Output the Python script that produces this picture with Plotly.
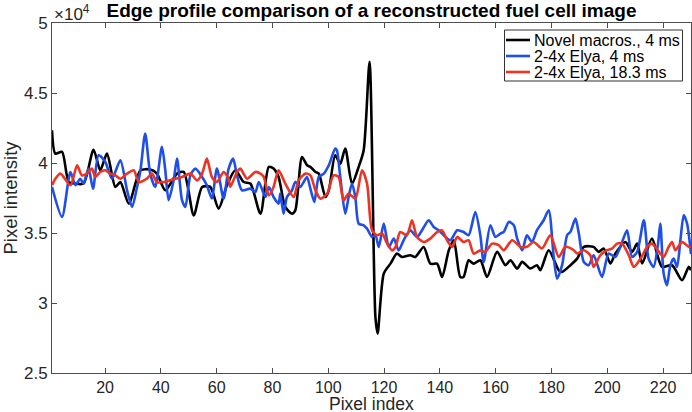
import plotly.graph_objects as go

# ---- data ----
black_x = [1, 2.2, 4.6, 7.0, 9.4, 12.3, 15.9, 18.3, 20.7, 23.7, 25.5, 28.5, 32.7, 36.2, 38.6, 41.6, 45.8, 48.2, 51.8, 54.8,
           57.7, 60.7, 63.7, 66.7, 69.7, 72.1, 75.7, 78.7, 80.4, 82.2, 84.6, 87.0, 88.2, 90.6, 92.4, 93.6, 95.4, 96.6, 99.0, 100.2,
           102.5, 104.3, 106.1, 108.5, 110.9, 112.7, 114.8, 116.9, 117.7, 119.9, 122.3, 124.6, 126.4, 129.4, 131.2, 134.2, 136.6,
           139.0, 140.8, 143.2, 145.0, 147.3, 148.5, 150.3, 152.1, 154.5, 156.9, 160.5, 163.5, 165.3, 167.7, 169.5, 172.4, 174.8,
           176.0, 179.0, 182.6, 183.8, 186.8, 189.2, 191.6, 195.1, 196.9, 198.7, 201.1, 202.9, 206.5, 208.9, 210.7, 212.5, 216.0,
           219.6, 223.2, 226.8, 229.2, 230]
black_y = [42340, 40670, 40790, 38640, 38530, 38530, 40950, 39480, 40670, 38290, 38640, 37100, 39480, 39530, 39240, 38050,
           39240, 39360, 36260, 38290, 38290, 36740, 38410, 39480, 38640, 38530, 36380, 39720, 39600, 39000, 36860, 36380, 36620,
           40430, 39840, 39720, 39360, 39240, 37570, 38050, 40550, 39950, 41030, 38530, 39720, 40910, 47220, 29000, 27810, 32100,
           32810, 33530, 33290, 33410, 33290, 34000, 32810, 32810, 31860, 33760, 34480, 31860, 31860, 33050, 32810, 33050, 31860,
           33650, 32700, 33050, 32460, 32940, 32460, 32700, 32340, 33770, 32340, 32220, 32700, 33170, 34010, 34010, 33650, 33890,
           32820, 33530, 34360, 33650, 34240, 32820, 34600, 32580, 32700, 31630, 32580, 32340]

blue_x = [1, 4.6, 7.6, 9.4, 11.1, 12.3, 14.1, 15.7, 17.7, 20.1, 22.5, 25.5, 27.9, 29.7, 31.5, 32.7, 34.4, 36.2, 38.0, 40.4,
          41.6, 42.8, 44.6, 45.8, 47.6, 48.8, 50.6, 52.4, 54.8, 56.5, 58.3, 60.1, 62.5, 64.3, 65.9, 67.3, 69.1, 72.1, 73.9, 75.1,
          77.5, 78.7, 80.4, 82.2, 82.8, 84.0, 85.2, 87.0, 88.2, 90.0, 91.2, 92.4, 93.6, 95.0, 96.6, 98.4, 100.2, 102.5, 103.1,
          104.3, 106.1, 107.3, 108.5, 109.7, 110.9, 112.7, 113.9, 115.7, 116.9, 118.1, 119.9, 121.7, 123.5, 125.2, 127.0, 129.4,
          131.8, 133.6, 136.0, 137.8, 139.6, 142.0, 143.8, 146.2, 148.5, 150.3, 152.7, 154.5, 155.7, 158.1, 159.9, 161.7, 162.9,
          164.7, 166.5, 167.7, 169.5, 171.2, 173.0, 174.8, 177.2, 179.0, 180.8, 182.0, 183.8, 185.6, 186.8, 188.6, 189.8, 191.6,
          193.3, 195.1, 198.1, 200.5, 202.9, 205.3, 207.1, 208.9, 210.7, 213.1, 214.8, 216.6, 218.2, 219.0, 220.2, 221.4, 222.6,
          223.8, 225.0, 226.2, 227.4, 228.6, 230]
blue_y = [38290, 36150, 39360, 38410, 38880, 38530, 39600, 38170, 40550, 40070, 38880, 40190, 38050, 36860, 38290, 39480,
          42100, 39240, 38290, 41150, 39480, 37340, 38760, 40310, 37340, 36860, 39120, 39600, 39000, 38410, 37460, 39600, 37460,
          39600, 40310, 39120, 38050, 38170, 37930, 38640, 37570, 38290, 37570, 37100, 37810, 36380, 37570, 38050, 38650, 38290,
          38650, 39000, 38170, 37220, 39000, 39240, 39840, 41030, 40910, 39000, 36380, 37570, 38530, 37570, 35670, 35550, 35310,
          34720, 34840, 34000, 35670, 34000, 34600, 33760, 34480, 35190, 34720, 35190, 35910, 35430, 35190, 34720, 34480, 35190,
          35070, 34840, 36500, 34840, 32930, 35550, 34720, 34960, 35080, 35790, 35550, 34600, 33770, 34840, 34360, 35200, 35910,
          36630, 33290, 31740, 32700, 34840, 35080, 36030, 34960, 32930, 32700, 33410, 31860, 33530, 33290, 34360, 35200, 33290,
          33650, 35910, 33170, 32580, 34240, 35670, 32100, 31270, 32700, 33170, 32580, 34480, 36270, 35670, 33500]

red_x = [1, 2.2, 4.0, 7.6, 10.0, 11.7, 13.5, 15.3, 16.5, 18.3, 20.1, 21.9, 23.7, 25.5, 27.9, 30.3, 32.1, 35.0, 36.8, 38.6,
         41.0, 44.0, 47.6, 50.6, 53.0, 54.8, 56.5, 58.3, 60.1, 62.5, 64.3, 64.9, 67.3, 68.5, 70.9, 73.9, 75.7, 76.9, 78.7, 80.4,
         82.2, 84.6, 87.6, 89.4, 91.8, 93.6, 95.4, 97.2, 99.6, 101.9, 103.7, 105.5, 107.3, 109.7, 112.1, 113.9, 115.7, 117.5,
         119.3, 121.1, 122.9, 124.1, 125.8, 128.2, 130.0, 131.8, 134.2, 136.6, 139.0, 140.8, 142.6, 144.4, 146.2, 148.5, 150.3,
         152.1, 154.5, 156.3, 158.7, 161.1, 162.9, 165.9, 168.9, 171.2, 173.6, 176.6, 179.6, 182.6, 185.0, 188.0, 189.2, 191.6,
         193.9, 195.1, 197.5, 199.9, 201.7, 203.5, 205.3, 207.7, 209.5, 211.9, 214.3, 216.0, 219.0, 220.2, 222.0, 223.2, 224.4,
         226.8, 229.2, 230]
red_y = [38410, 38880, 39240, 38410, 39840, 39120, 39240, 39600, 39000, 39360, 39480, 39240, 39120, 38880, 39240, 39480,
         38640, 38880, 39240, 38640, 38640, 38810, 39000, 39240, 38760, 39240, 40310, 39000, 38640, 39360, 38880, 38290, 39360,
         39600, 38880, 39360, 39240, 39000, 37690, 38290, 39480, 38530, 37570, 38760, 39240, 39120, 38050, 37450, 37810, 39120,
         39000, 37340, 37810, 37450, 39480, 38530, 35190, 34840, 34960, 34240, 33760, 34000, 35070, 34840, 35910, 34720, 34360,
         34600, 35070, 35190, 34480, 34000, 34720, 34360, 34480, 33530, 33760, 33650, 34240, 34130, 33770, 34480, 34010, 34010,
         34360, 33890, 34840, 33290, 34010, 33770, 33530, 33770, 33410, 32580, 33410, 33770, 33890, 34240, 34240, 33410, 32580,
         33170, 34010, 34240, 33530, 33290, 34010, 34360, 33770, 34360, 34010, 34010]

series_names = ["Novel macros., 4 ms", "2-4x Elya, 4 ms", "2-4x Elya, 18.3 ms"]
series_colors = ["#000000", "#1f4fe8", "#ee3322"]

x_ticks = [20, 40, 60, 80, 100, 120, 140, 160, 180, 200, 220]
y_ticks = [25000, 30000, 35000, 40000, 45000, 50000]
y_ticktext = ["2.5", "3", "3.5", "4", "4.5", "5"]

FONT = "Liberation Sans, Arial, Helvetica, sans-serif"
W, H = 692, 412
ML, MR, MT, MB = 52, 1, 23, 39
PW, PH = W - ML - MR, H - MT - MB


def px_x(px):
    return (px - ML) / PW


def px_y(py):
    return (H - MB - py) / PH


fig = go.Figure()
for xs, ys, name, col in zip([black_x, blue_x, red_x], [black_y, blue_y, red_y], series_names, series_colors):
    fig.add_trace(go.Scatter(x=xs, y=ys, mode="lines", name=name, showlegend=False,
                             line=dict(color=col, width=2.6, shape="spline", smoothing=0.7)))

axis_common = dict(showline=True, linecolor="#4d4d4d", linewidth=1, mirror="ticks",
                   ticks="inside", ticklen=5, tickcolor="#4d4d4d", showgrid=False, zeroline=False,
                   automargin=False)

fig.update_xaxes(range=[1, 230], tickvals=x_ticks,
                 tickfont=dict(family=FONT, size=16, color="#262626"),
                 **axis_common)
fig.update_yaxes(range=[25000, 50000], tickvals=y_ticks, ticktext=y_ticktext,
                 tickfont=dict(family=FONT, size=17, color="#262626"),
                 title=dict(text="Pixel intensity", font=dict(family=FONT, size=18.5, color="#262626"), standoff=1),
                 **axis_common)

# x-axis title placed just under the tick labels
fig.add_annotation(text="Pixel index", xref="paper", yref="paper", x=0.5, y=px_y(393),
                   xanchor="center", yanchor="top", showarrow=False, borderpad=0,
                   font=dict(family=FONT, size=17.5, color="#262626"))

fig.add_annotation(text="×10<sup>4</sup>", xref="paper", yref="paper", x=px_x(52), y=px_y(13),
                   xanchor="left", yanchor="middle", showarrow=False,
                   font=dict(family=FONT, size=17, color="#262626"))

# legend box drawn like the reference (tight rows)
shapes = [dict(type="rect", xref="paper", yref="paper", x0=px_x(504.5), x1=px_x(682.5), y0=px_y(81), y1=px_y(30),
               line=dict(color="#333333", width=1), fillcolor="white", layer="above")]
row_y = [40, 56, 72]
for ry, name, col in zip(row_y, series_names, series_colors):
    shapes.append(dict(type="line", xref="paper", yref="paper", x0=px_x(506), x1=px_x(530),
                       y0=px_y(ry), y1=px_y(ry), line=dict(color=col, width=2.6), layer="above"))
    fig.add_annotation(text=name, xref="paper", yref="paper", x=px_x(531.5), y=px_y(ry),
                       xanchor="left", yanchor="middle", showarrow=False,
                       font=dict(family=FONT, size=16, color="#000000"))

fig.update_layout(
    width=W, height=H,
    margin=dict(l=ML, r=MR, t=MT, b=MB),
    paper_bgcolor="white", plot_bgcolor="white",
    shapes=shapes,
    title=dict(text="<b>Edge profile comparison of a reconstructed fuel cell image</b>",
               x=(ML + W - MR) / 2 / W, xanchor="center", y=1 - 10 / H, yanchor="middle",
               font=dict(family=FONT, size=19, color="#000000")),
    showlegend=False,
)

fig.write_html("out.html", config={"displayModeBar": False},
               post_script="document.body.style.margin='0';document.body.style.overflow='hidden';")
